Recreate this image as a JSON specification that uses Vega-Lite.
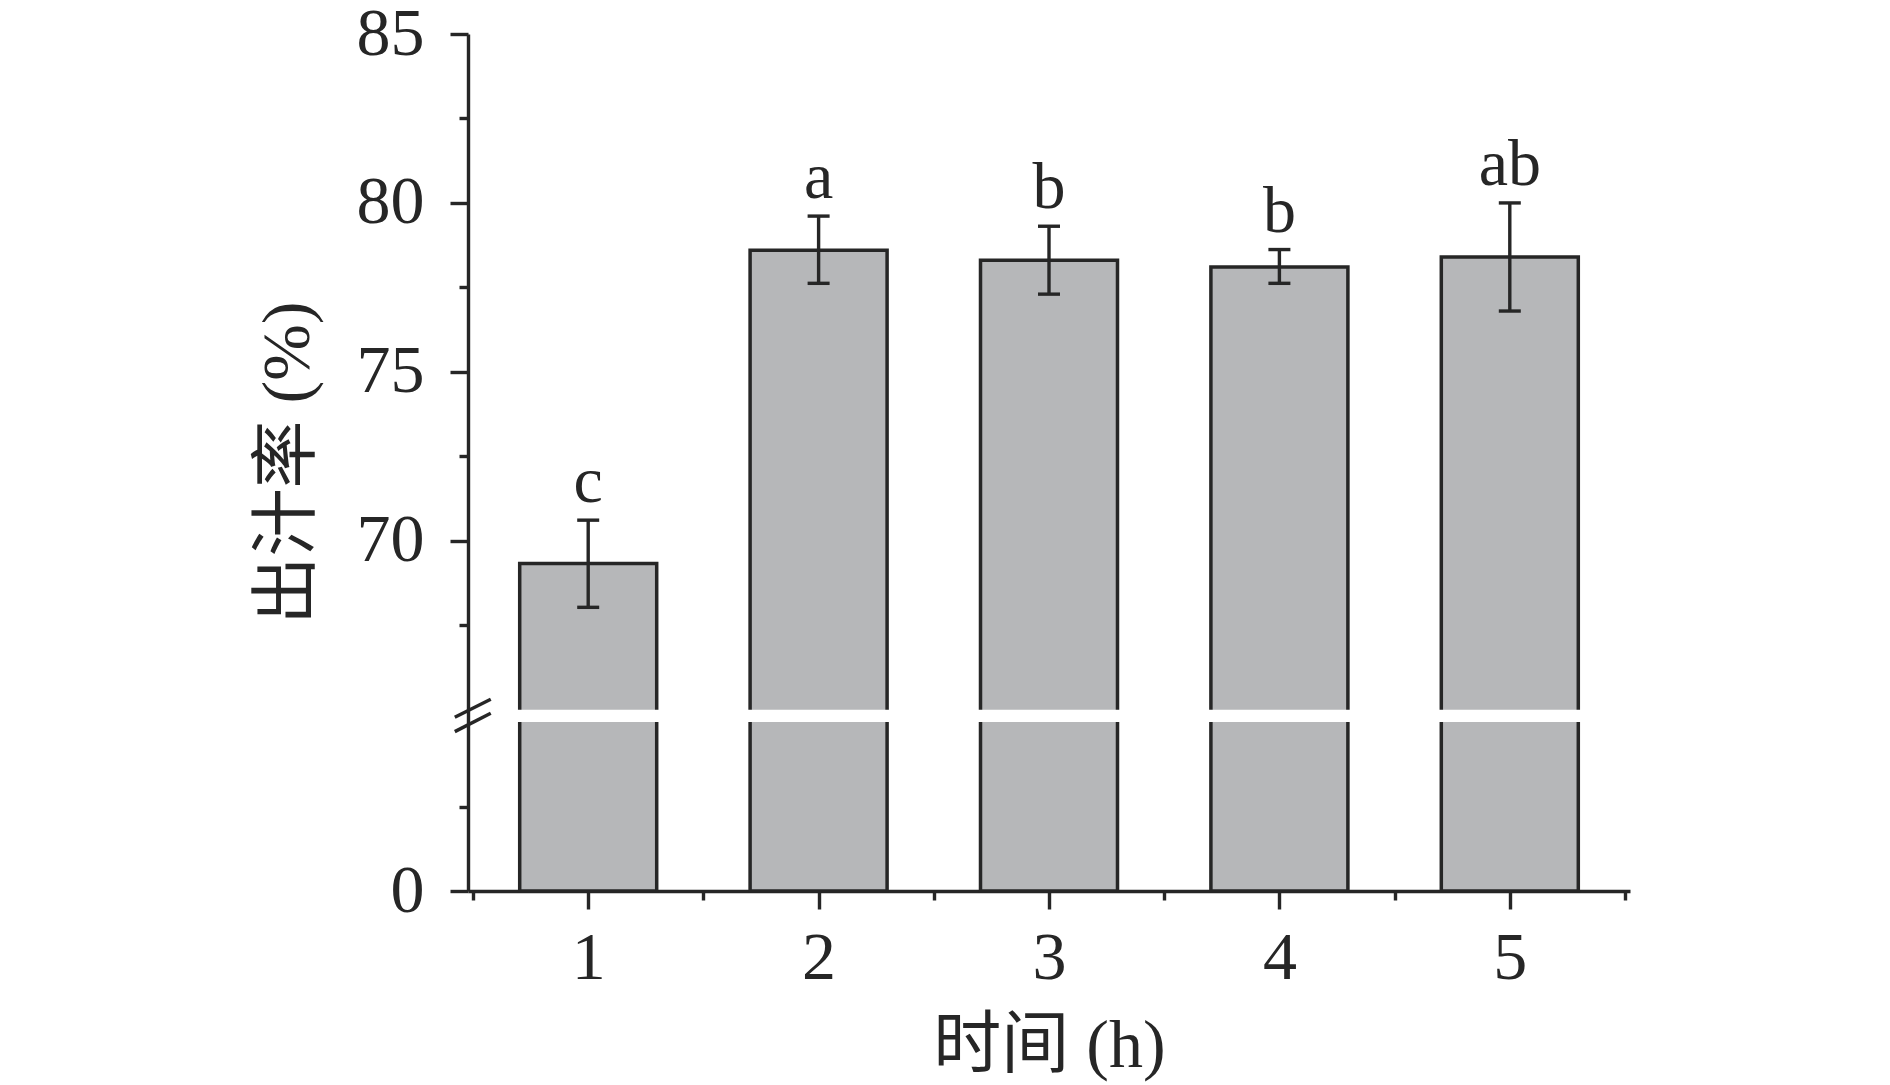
{
  "$schema": "https://vega.github.io/schema/vega-lite/v6.json",
  "width": 1162,
  "height": 857,
  "autosize": {"type": "none"},
  "padding": {"left": 468, "top": 34, "right": 260, "bottom": 194},
  "background": "white",
  "config": {
    "view": {"stroke": null},
    "axis": {
      "domainColor": "#262626",
      "domainWidth": 3.4,
      "tickColor": "#262626",
      "tickWidth": 3.4,
      "labelFont": "Liberation Serif",
      "labelFontSize": 68,
      "labelColor": "#262626",
      "titleFont": "Liberation Serif, Noto Sans CJK SC",
      "titleFontSize": 68,
      "titleFontWeight": "normal",
      "titleColor": "#262626",
      "grid": false
    }
  },
  "data": {
    "values": [
      {"t": 1, "mean": 69.33, "lo": 68.03, "hi": 70.61, "label": "c"},
      {"t": 2, "mean": 78.60, "lo": 77.62, "hi": 79.61, "label": "a"},
      {"t": 3, "mean": 78.30, "lo": 77.30, "hi": 79.31, "label": "b"},
      {"t": 4, "mean": 78.10, "lo": 77.62, "hi": 78.62, "label": "b"},
      {"t": 5, "mean": 78.40, "lo": 76.80, "hi": 80.00, "label": "ab"}
    ]
  },
  "layer": [
    {
      "layer": [
        {
          "mark": {"type": "bar", "width": 137, "fill": "#b6b7b9", "stroke": "#262626", "strokeWidth": 3.5},
          "encoding": {
            "x": {"field": "t", "type": "quantitative",
                  "scale": {"domain": [0.5, 5.5], "nice": false, "zero": false},
                  "axis": {"values": [1, 2, 3, 4, 5], "format": "d", "tickSize": 18, "labelPadding": 15, "title": "时间 (h)", "titlePadding": 20}},
            "y": {"field": "mean", "type": "quantitative",
                  "scale": {"domain": [0, 10, 65, 85], "range": [857, 688, 675.7, 0], "nice": false, "zero": false, "clamp": false},
                  "axis": {"values": [0, 70, 75, 80, 85], "format": "d", "tickSize": 18, "labelPadding": 26, "title": "出汁率 (%)", "titlePadding": 34}},
            "y2": {"datum": 0}
          }
        },
        {
          "mark": {"type": "bar", "width": 147, "fill": "white", "stroke": null},
          "encoding": {
            "x": {"field": "t", "type": "quantitative"},
            "y": {"datum": 10},
            "y2": {"datum": 65}
          }
        },
        {
          "mark": {"type": "rule", "stroke": "#262626", "strokeWidth": 3.4},
          "encoding": {
            "x": {"field": "t", "type": "quantitative"},
            "y": {"field": "lo", "type": "quantitative"},
            "y2": {"field": "hi"}
          }
        },
        {
          "mark": {"type": "tick", "orient": "horizontal", "size": 22, "thickness": 3.4, "color": "#262626", "opacity": 1},
          "encoding": {
            "x": {"field": "t", "type": "quantitative"},
            "y": {"field": "lo", "type": "quantitative"}
          }
        },
        {
          "mark": {"type": "tick", "orient": "horizontal", "size": 22, "thickness": 3.4, "color": "#262626", "opacity": 1},
          "encoding": {
            "x": {"field": "t", "type": "quantitative"},
            "y": {"field": "hi", "type": "quantitative"}
          }
        },
        {
          "mark": {"type": "text", "font": "Liberation Serif", "fontSize": 66, "color": "#262626", "baseline": "alphabetic", "align": "center", "dy": -18},
          "encoding": {
            "x": {"field": "t", "type": "quantitative"},
            "y": {"field": "hi", "type": "quantitative"},
            "text": {"field": "label"}
          }
        },
        {
          "data": {"values": [
            {"bx": 0.421, "by": 31.0, "bx2": 0.577, "by2": 65.31},
            {"bx": 0.421, "by": 9.43, "bx2": 0.577, "by2": 48.9}
          ]},
          "mark": {"type": "rule", "stroke": "#262626", "strokeWidth": 3.4, "clip": false},
          "encoding": {
            "x": {"field": "bx", "type": "quantitative"},
            "x2": {"field": "bx2"},
            "y": {"field": "by", "type": "quantitative"},
            "y2": {"field": "by2"}
          }
        }
      ]
    },
    {
      "mark": {"type": "point", "opacity": 0},
      "encoding": {
        "x": {"field": "t", "type": "quantitative",
              "scale": {"domain": [0.5, 5.5], "nice": false, "zero": false},
              "axis": {"orient": "bottom", "values": [0.5, 1.5, 2.5, 3.5, 4.5, 5.5], "tickSize": 9, "labels": false, "domain": false, "title": null}},
        "y": {"field": "mean", "type": "quantitative",
              "scale": {"domain": [0, 10, 65, 85], "range": [857, 688, 675.7, 0], "nice": false, "zero": false},
              "axis": {"orient": "left", "values": [5, 67.5, 72.5, 77.5, 82.5], "tickSize": 9, "labels": false, "domain": false, "title": null}}
      }
    }
  ],
  "resolve": {"axis": {"x": "independent", "y": "independent"}}
}
